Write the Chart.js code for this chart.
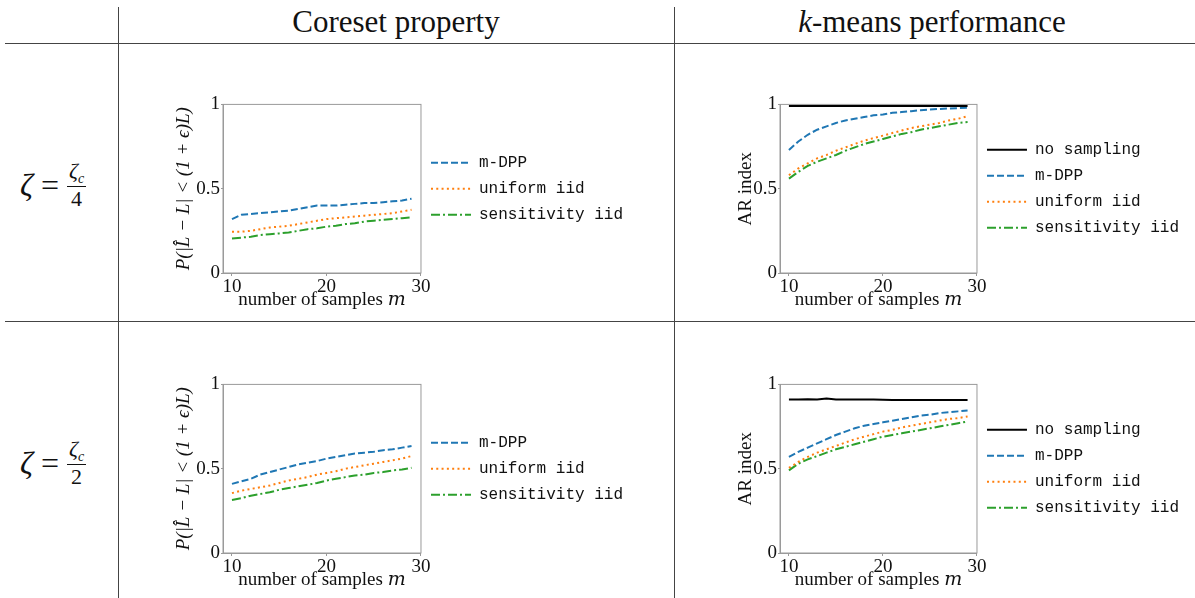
<!DOCTYPE html>
<html>
<head>
<meta charset="utf-8">
<script src="https://cdn.jsdelivr.net/npm/chart.js@4.4.1/dist/chart.umd.min.js"></script>
<style>
  body { margin: 0; width: 1195px; height: 598px; background: #fff; position: relative; overflow: hidden;
         font-family: "Liberation Serif", serif; color: #111; }
  .hl { position: absolute; height: 1px; background: #444; }
  .vl { position: absolute; width: 1px; background: #444; }
  .head { position: absolute; top: 4px; font-size: 31px; white-space: nowrap; transform: translateX(-50%); }
  .rowlab { position: absolute; left: 20px; font-size: 32px; white-space: nowrap; display: flex; align-items: center; }
  .frac { display: inline-flex; flex-direction: column; align-items: center; font-size: 22px; margin-left: 8px; }
  .frac .num { border-bottom: 1.5px solid #111; padding: 0 2px; line-height: 1; }
  .frac .num sub { font-size: 14px; }
  .frac .den { line-height: 1.1; }
  .cell { position: absolute; }
</style>
</head>
<body>
<div class="hl" style="left:5px; width:1190px; top:43px;"></div>
<div class="hl" style="left:5px; width:1190px; top:321px;"></div>
<div class="vl" style="left:118px; top:7px; height:591px;"></div>
<div class="vl" style="left:674px; top:7px; height:591px;"></div>

<div class="head" style="left:396px;">Coreset property</div>
<div class="head" style="left:932px;"><i>k</i>-means performance</div>

<div class="rowlab" style="top:160px;"><i>ζ</i>&nbsp;=<span class="frac"><span class="num"><i>ζ<sub>c</sub></i></span><span class="den">4</span></span></div>
<div class="rowlab" style="top:438px;"><i>ζ</i>&nbsp;=<span class="frac"><span class="num"><i>ζ<sub>c</sub></i></span><span class="den">2</span></span></div>

<div class="cell" style="left:169px; top:92px;"><canvas id="c1" width="464" height="223"></canvas></div>
<div class="cell" style="left:731px; top:92px;"><canvas id="c2" width="458" height="223"></canvas></div>
<div class="cell" style="left:169px; top:372px;"><canvas id="c3" width="464" height="223"></canvas></div>
<div class="cell" style="left:731px; top:372px;"><canvas id="c4" width="458" height="223"></canvas></div>

<script>
// number of samples m
const MS = [10, 11, 12, 13, 14, 15, 16, 17, 18, 19, 20, 21, 22, 23, 24, 25, 26, 27, 28, 29];
const X_TICKS = [10, 20, 30];
const Y_TICKS = [0, 0.5, 1];

// zeta = zeta_c / 4, coreset property
const TL_MDPP = [0.32, 0.345, 0.35, 0.355, 0.36, 0.365, 0.37, 0.38, 0.39, 0.40, 0.40, 0.40, 0.405, 0.41, 0.415, 0.415, 0.42, 0.425, 0.43, 0.44];
const TL_UNIF = [0.245, 0.245, 0.25, 0.26, 0.27, 0.275, 0.28, 0.29, 0.30, 0.31, 0.32, 0.325, 0.33, 0.335, 0.34, 0.345, 0.35, 0.355, 0.365, 0.375];
const TL_SENS = [0.205, 0.21, 0.215, 0.225, 0.23, 0.235, 0.24, 0.25, 0.26, 0.265, 0.275, 0.28, 0.29, 0.295, 0.305, 0.31, 0.315, 0.32, 0.325, 0.33];

// zeta = zeta_c / 4, k-means AR index
const TR_NONE = [0.99, 0.99, 0.99, 0.99, 0.99, 0.99, 0.99, 0.99, 0.99, 0.99, 0.99, 0.99, 0.99, 0.99, 0.99, 0.99, 0.99, 0.99, 0.99, 0.99];
const TR_MDPP = [0.73, 0.78, 0.82, 0.85, 0.87, 0.89, 0.905, 0.915, 0.925, 0.935, 0.94, 0.95, 0.955, 0.96, 0.965, 0.97, 0.973, 0.976, 0.978, 0.98];
const TR_UNIF = [0.58, 0.62, 0.65, 0.68, 0.70, 0.725, 0.745, 0.765, 0.785, 0.80, 0.815, 0.83, 0.845, 0.86, 0.87, 0.88, 0.89, 0.905, 0.915, 0.93];
const TR_SENS = [0.56, 0.60, 0.635, 0.66, 0.68, 0.70, 0.725, 0.745, 0.765, 0.78, 0.795, 0.81, 0.825, 0.835, 0.85, 0.86, 0.87, 0.88, 0.89, 0.895];

// zeta = zeta_c / 2, coreset property
const BL_MDPP = [0.41, 0.425, 0.44, 0.465, 0.48, 0.495, 0.51, 0.525, 0.535, 0.545, 0.56, 0.57, 0.58, 0.59, 0.595, 0.60, 0.61, 0.615, 0.625, 0.635];
const BL_UNIF = [0.355, 0.37, 0.38, 0.39, 0.40, 0.415, 0.43, 0.44, 0.45, 0.465, 0.475, 0.485, 0.50, 0.51, 0.52, 0.53, 0.54, 0.55, 0.56, 0.575];
const BL_SENS = [0.315, 0.325, 0.34, 0.35, 0.36, 0.375, 0.385, 0.395, 0.405, 0.415, 0.43, 0.44, 0.45, 0.46, 0.465, 0.475, 0.48, 0.49, 0.495, 0.505];

// zeta = zeta_c / 2, k-means AR index
const BR_NONE = [0.91, 0.91, 0.912, 0.91, 0.916, 0.91, 0.91, 0.91, 0.91, 0.91, 0.909, 0.908, 0.908, 0.907, 0.907, 0.907, 0.907, 0.907, 0.908, 0.908];
const BR_MDPP = [0.57, 0.60, 0.625, 0.65, 0.675, 0.70, 0.72, 0.74, 0.755, 0.765, 0.775, 0.785, 0.795, 0.805, 0.815, 0.82, 0.83, 0.835, 0.84, 0.845];
const BR_UNIF = [0.505, 0.54, 0.57, 0.595, 0.615, 0.635, 0.655, 0.675, 0.69, 0.705, 0.72, 0.73, 0.745, 0.755, 0.765, 0.775, 0.785, 0.795, 0.80, 0.81];
const BR_SENS = [0.49, 0.53, 0.555, 0.575, 0.595, 0.615, 0.63, 0.645, 0.66, 0.675, 0.69, 0.70, 0.71, 0.72, 0.73, 0.74, 0.75, 0.76, 0.77, 0.78];

const SERIF = '"Liberation Serif", "DejaVu Serif", serif';
const MONO = '"Liberation Mono", monospace';
const GREY = '#9a9a9a';
const TEXT = '#111';

const STYLES = {
    none: { label: 'no sampling', color: '#000000', dash: [] },
    mdpp: { label: 'm-DPP', color: '#1f77b4', dash: [7, 3] },
    unif: { label: 'uniform iid', color: '#ff7f0e', dash: [2, 3.3] },
    sens: { label: 'sensitivity iid', color: '#2ca02c', dash: [9, 3, 2, 3] }
};

// box around the plot area, like matplotlib spines
const framePlugin = {
    id: 'frame',
    afterDraw(chart) {
        const a = chart.chartArea;
        const ctx = chart.ctx;
        ctx.save();
        ctx.strokeStyle = GREY;
        ctx.lineWidth = 1;
        ctx.strokeRect(a.left, a.top, a.right - a.left, a.bottom - a.top);
        ctx.restore();
    }
};

function makeDataset(key, values) {
    const s = STYLES[key];
    return {
        label: s.label,
        data: MS.map((m, i) => ({ x: m, y: values[i] })),
        borderColor: s.color,
        backgroundColor: s.color,
        borderWidth: 2,
        borderDash: s.dash,
        pointRadius: 0,
        fill: false,
        tension: 0
    };
}

function makeChart(id, series, yTitle, yItalic, yWidth) {
    const ctx = document.getElementById(id).getContext('2d');
    return new Chart(ctx, {
        type: 'line',
        data: { datasets: series.map(s => makeDataset(s[0], s[1])) },
        options: {
            responsive: false,
            animation: false,
            layout: { padding: { top: 12, left: 0, right: 0, bottom: 0 } },
            plugins: {
                tooltip: { enabled: false },
                legend: {
                    position: 'right',
                    align: 'center',
                    fullSize: false,
                    maxWidth: 240,
                    labels: {
                        usePointStyle: true,
                        pointStyle: 'line',
                        pointStyleWidth: 40,
                        padding: 10,
                        color: TEXT,
                        font: { family: MONO, size: 16 },
                        generateLabels(chart) {
                            const items = Chart.defaults.plugins.legend.labels.generateLabels(chart);
                            items.forEach(it => {
                                const ds = chart.data.datasets[it.datasetIndex];
                                it.lineDash = ds.borderDash;
                                it.strokeStyle = ds.borderColor;
                                it.lineWidth = ds.borderWidth;
                            });
                            return items;
                        }
                    }
                }
            },
            scales: {
                x: {
                    type: 'linear',
                    min: 9.05,
                    max: 30,
                    afterBuildTicks: s => { s.ticks = X_TICKS.map(v => ({ value: v })); },
                    afterFit: s => { s.height = 42; },
                    ticks: { color: TEXT, font: { family: SERIF, size: 19 }, padding: 0, maxRotation: 0, autoSkip: false,
                             callback: v => String(v) },
                    grid: { display: true, drawOnChartArea: false, tickLength: 3, color: GREY },
                    border: { color: GREY },
                    title: {
                        display: true,
                        text: 'number of samples 𝑚',
                        color: TEXT,
                        font: { family: SERIF, size: 19 },
                        padding: { top: 0, bottom: 4 }
                    }
                },
                y: {
                    min: 0,
                    max: 1,
                    afterBuildTicks: s => { s.ticks = Y_TICKS.map(v => ({ value: v })); },
                    afterFit: s => { s.width = yWidth; },
                    ticks: { color: TEXT, font: { family: SERIF, size: 19 }, padding: 1, callback: v => String(v) },
                    grid: { display: true, drawOnChartArea: false, tickLength: 2, color: GREY },
                    border: { color: GREY },
                    title: {
                        display: true,
                        text: yTitle,
                        color: TEXT,
                        font: { family: SERIF, size: 19, style: yItalic ? 'italic' : 'normal' },
                        padding: { top: 4, bottom: 0 }
                    }
                }
            }
        },
        plugins: [framePlugin]
    });
}

const CORESET_LABEL = 'P(|L\u0302 \u2212 L| < (1 + \u03f5)L)';

makeChart('c1', [['mdpp', TL_MDPP], ['unif', TL_UNIF], ['sens', TL_SENS]], CORESET_LABEL, true, 54);
makeChart('c2', [['none', TR_NONE], ['mdpp', TR_MDPP], ['unif', TR_UNIF], ['sens', TR_SENS]], 'AR index', false, 49);
makeChart('c3', [['mdpp', BL_MDPP], ['unif', BL_UNIF], ['sens', BL_SENS]], CORESET_LABEL, true, 54);
makeChart('c4', [['none', BR_NONE], ['mdpp', BR_MDPP], ['unif', BR_UNIF], ['sens', BR_SENS]], 'AR index', false, 49);
</script>
</body>
</html>
